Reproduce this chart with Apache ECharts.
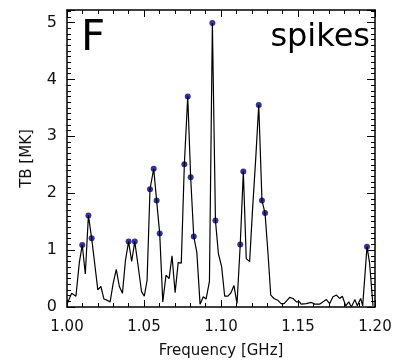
<!DOCTYPE html>
<html>
<head>
<meta charset="utf-8">
<script src="https://cdn.jsdelivr.net/npm/echarts@6/dist/echarts.min.js"></script>
<style>
html,body{margin:0;padding:0;background:#fff;}
#chart{width:397px;height:364px;}
</style>
</head>
<body>
<div id="chart"></div>
<script>
var freq = [1.0000,1.0030,1.0058,1.0080,1.0099,1.0119,1.0139,1.0160,1.0180,1.0200,1.0220,1.0240,1.0260,1.0280,1.0300,1.0320,1.0340,1.0360,1.0380,1.0400,1.0420,1.0440,1.0462,1.0484,1.0502,1.0520,1.0539,1.0563,1.0582,1.0602,1.0622,1.0643,1.0663,1.0682,1.0702,1.0722,1.0742,1.0762,1.0784,1.0803,1.0823,1.0843,1.0864,1.0885,1.0903,1.0925,1.0944,1.0964,1.0983,1.1004,1.1024,1.1045,1.1065,1.1084,1.1104,1.1125,1.1145,1.1164,1.1186,1.1205,1.1226,1.1245,1.1266,1.1286,1.1305,1.1323,1.1344,1.1368,1.1390,1.1410,1.1446,1.1468,1.1490,1.1510,1.1520,1.1554,1.1586,1.1610,1.1640,1.1684,1.1706,1.1727,1.1750,1.1770,1.1788,1.1810,1.1830,1.1846,1.1870,1.1885,1.1907,1.1920,1.1948,1.1965,1.1987];
var tb = [0.05,0.24,0.19,0.78,1.09,0.58,1.61,1.21,0.76,0.30,0.36,0.14,0.12,0.09,0.42,0.66,0.36,0.24,0.83,1.15,0.80,1.15,0.72,0.27,0.19,0.47,2.07,2.43,1.87,1.29,0.09,0.56,0.50,0.90,0.25,0.78,0.77,2.51,3.70,2.28,1.24,0.96,0.05,0.18,0.14,0.45,4.99,1.52,0.94,0.71,0.19,0.19,0.25,0.38,0.06,1.10,2.38,0.85,0.80,1.72,2.63,3.55,1.87,1.65,0.95,0.21,0.15,0.12,0.06,0.06,0.17,0.15,0.09,0.09,0.05,0.06,0.08,0.05,0.05,0.13,0.06,0.18,0.21,0.15,0.19,0.02,0.09,0.00,0.13,0.02,0.15,0.02,1.06,0.77,0.02];
var spikeFreq = [1.0099,1.0139,1.0160,1.0400,1.0440,1.0539,1.0563,1.0582,1.0602,1.0762,1.0784,1.0803,1.0823,1.0944,1.0964,1.1125,1.1145,1.1245,1.1266,1.1286,1.1948];
var spikeTb = [1.09,1.61,1.21,1.15,1.15,2.07,2.43,1.87,1.29,2.51,3.70,2.28,1.24,4.99,1.52,1.10,2.38,3.55,1.87,1.65,1.06];
var xTicks = {min:1.00, max:1.20, interval:0.05};
var yTicks = {min:0, max:5.22, interval:1};
var panelLabel = 'F';
var panelTitle = 'spikes';
var xName = 'Frequency [GHz]';
var yName = 'TB [MK]';

var lineData = freq.map(function(f,i){return [f,tb[i]];});
var spikeData = spikeFreq.map(function(f,i){return [f,spikeTb[i]];});

var font = 'DejaVu Sans';
var axisLine = {show:true, onZero:false, lineStyle:{color:'#000', width:1.5}};
function xAxisCfg(pos, labels){
  return {
    type:'value', position:pos, min:xTicks.min, max:xTicks.max, interval:xTicks.interval,
    axisLine:axisLine,
    axisTick:{show:true, inside:true, length:7, lineStyle:{color:'#000', width:1}},
    minorTick:{show:true, splitNumber:5, length:4, lineStyle:{color:'#000', width:1}},
    splitLine:{show:false},
    axisLabel:{show:labels, margin:13, color:'#111', fontFamily:font, fontSize:15,
      formatter:function(v){return v.toFixed(2);}},
    name: labels ? xName : '', nameLocation:'middle', nameGap:37,
    nameTextStyle:{color:'#111', fontFamily:font, fontSize:15}
  };
}
function yAxisCfg(pos, labels){
  return {
    type:'value', position:pos, min:yTicks.min, max:yTicks.max, interval:yTicks.interval,
    axisLine:axisLine,
    axisTick:{show:true, inside:true, length:8, lineStyle:{color:'#000', width:1}},
    minorTick:{show:true, splitNumber:10, length:4, lineStyle:{color:'#000', width:1}},
    splitLine:{show:false},
    axisLabel:{show:labels, margin:10, color:'#111', fontFamily:font, fontSize:16, showMaxLabel:false},
    name: labels ? yName : '', nameLocation:'middle', nameGap:32,
    nameTextStyle:{color:'#111', fontFamily:font, fontSize:15}
  };
}

var chart = echarts.init(document.getElementById('chart'), null, {renderer:'canvas'});
chart.setOption({
  animation:false,
  backgroundColor:'#fff',
  grid:{left:67, right:22, top:10, bottom:57},
  xAxis:[xAxisCfg('bottom', true), xAxisCfg('top', false)],
  yAxis:[yAxisCfg('left', true), yAxisCfg('right', false)],
  title:[
    {text:panelLabel, left:76, top:13, textStyle:{fontFamily:font, fontSize:42, fontWeight:'normal', color:'#000'}},
    {text:panelTitle, right:22, top:17, textStyle:{fontFamily:font, fontSize:32, fontWeight:'normal', color:'#000'}}
  ],
  series:[
    {type:'line', data:lineData, xAxisIndex:0, yAxisIndex:0, showSymbol:false, symbol:'none',
      lineStyle:{color:'#000', width:1.2}, clip:true},
    {type:'scatter', data:spikeData, xAxisIndex:0, yAxisIndex:0, symbol:'circle', symbolSize:6,
      itemStyle:{color:'#000080'}}
  ]
});
</script>
</body>
</html>
